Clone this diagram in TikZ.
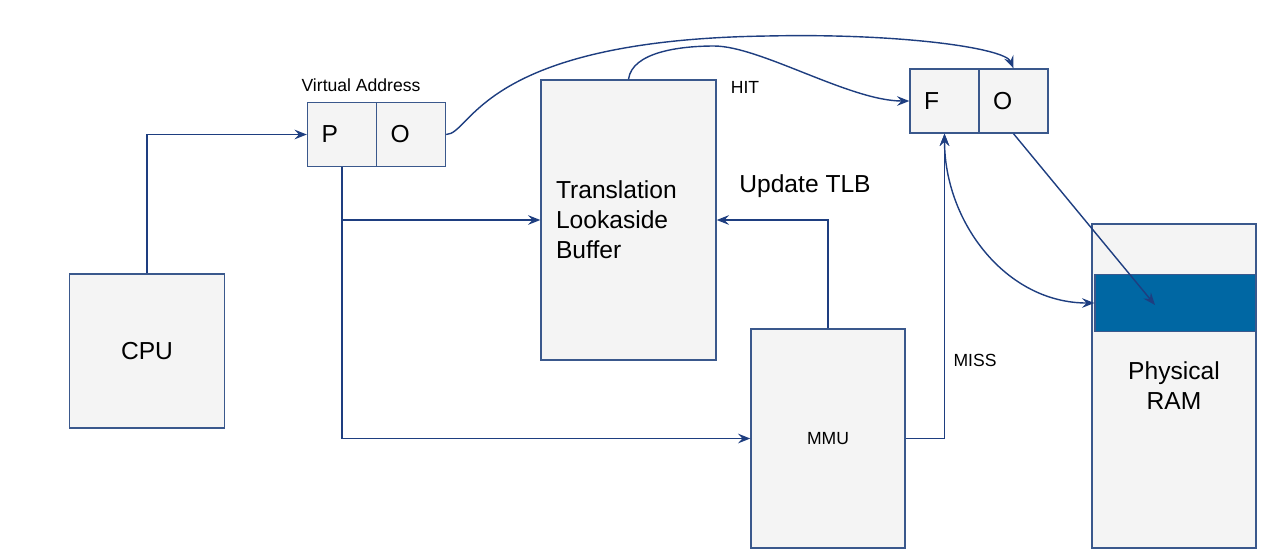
\documentclass[tikz,border=0pt]{standalone}
\usepackage{fontspec}
\setmainfont{Liberation Sans}
\usetikzlibrary{arrows.meta}

\definecolor{linkblue}{RGB}{30,62,128}
\definecolor{boxline}{RGB}{58,88,140}
\definecolor{boxfill}{RGB}{244,244,244}
\definecolor{ramblue}{RGB}{0,103,163}

\begin{document}
\begin{tikzpicture}[->,>={Stealth[length=7pt,width=5.5pt,inset=2.5pt]},line width=0.8pt,x=0.02cm,y=-0.02cm,
    block/.style={shape=rectangle,draw=boxline,fill=boxfill,inner sep=0pt},
    big/.style={font=\fontsize{14}{17}\selectfont},
    small/.style={font=\fontsize{10}{12}\selectfont},
    field/.style={block,big,minimum height=1.28cm,text width=0.82cm,inner xsep=0.28cm,align=left},
    link/.style={draw=linkblue}]
                \useasboundingbox (0, 0) rectangle (1266, 556);
                \node[block,big,minimum width=3.1cm,minimum height=3.08cm](cpu)at(147, 351){CPU};
                \node[field](p)at(342, 134.5){P};
                \node[field](o)at(411, 134.5){O};
                \node[small](va)at(361, 85){Virtual Address};
                \node[block,big,minimum width=3.5cm,minimum height=5.6cm,text width=2.9cm,align=left](tlb)at(628.5, 220){Translation\\Lookaside\\Buffer};
                \node[block,small,minimum width=3.08cm,minimum height=4.38cm](mmu)at(828, 438.5){MMU};
                \node[field](f)at(944.5, 101){F};
                \node[field](o2)at(1013.5, 101){O};
                \node[block,big,minimum width=3.28cm,minimum height=6.48cm,align=center](ram)at(1174, 386){Physical\\RAM};
                \node[block,fill=ramblue,minimum width=3.22cm,minimum height=1.14cm](band)at(1175.5, 303){};
                \coordinate(slot)at(1155, 305);
                \node[small](hit)at(745, 87){HIT};
                \node[big](upd)at(805, 186){Update TLB};
                \node[small](miss)at(975, 360){MISS};
                \draw[link](cpu.north) |- (p.west);
                \draw[link](p.south) |- (tlb.west);
                \draw[link](p.south) |- (mmu.west);
                \draw[link](mmu.north) |- (tlb.east);
                \draw[link](mmu.east) -| (f.south);
                \draw[link](o.east) .. controls (472, 134) and (480, 40) .. (767, 36) .. controls (900, 33) and (1005, 48) .. (o2.north);
                \draw[link](tlb.north) .. controls (632, 52) and (680, 46) .. (714, 46) .. controls (760, 46) and (850, 101) .. (f.west);
                \draw[link](o2.south) -- (slot);
                \draw[link,<->](f.south) to[out=-90,in=180] (band.west);
            \end{tikzpicture}
\end{document}
